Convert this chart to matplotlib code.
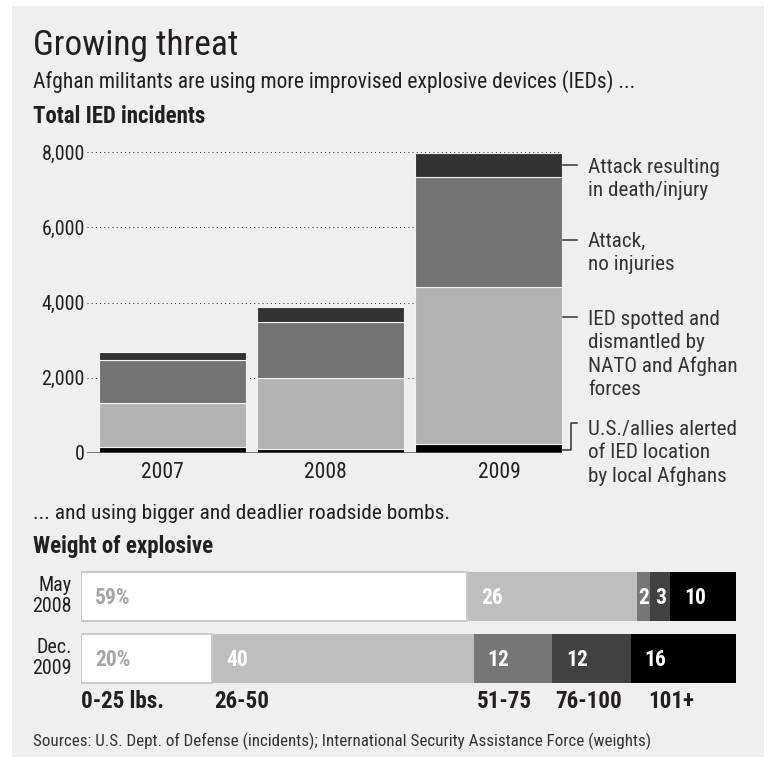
import matplotlib
matplotlib.use("Agg")
import matplotlib.pyplot as plt
from matplotlib.lines import Line2D
from matplotlib.patches import Rectangle
import numpy as np

FONT = ["Roboto Condensed", "Liberation Sans Narrow", "Liberation Sans", "DejaVu Sans"]
plt.rcParams["font.family"] = FONT

# --- data: total IED incidents (stacked, bottom to top) ---
years = ["2007", "2008", "2009"]
alerted_by_locals = [160, 100, 220]
spotted_dismantled = [1170, 1900, 4180]
attack_no_injury = [1140, 1480, 2940]
attack_death_injury = [210, 400, 650]
ied_labels = [
    "U.S./allies alerted\nof IED location\nby local Afghans",
    "IED spotted and\ndismantled by\nNATO and Afghan\nforces",
    "Attack,\nno injuries",
    "Attack resulting\nin death/injury",
]
y_ticks = [0, 2000, 4000, 6000, 8000]

# --- data: weight of explosive (percent) ---
weight_rows = ["May\n2008", "Dec.\n2009"]
weight_cats = ["0-25 lbs.", "26-50", "51-75", "76-100", "101+"]
may_2008 = [59, 26, 2, 3, 10]
dec_2009 = [20, 40, 12, 12, 16]

W, H = 784, 759
BG = "#efefef"
TXT = "#231f20"


def fx(x):
    return x / W


def fy(y):
    return 1 - y / H


fig = plt.figure(figsize=(W / 100, H / 100), dpi=100)
fig.patch.set_facecolor("white")
fig.add_artist(Rectangle((fx(12), fy(757)), fx(764) - fx(12), (757 - 6) / H,
                         transform=fig.transFigure, facecolor=BG, edgecolor="none", zorder=0))

# headings
fig.text(fx(33), fy(55), "Growing threat", fontsize=25.5, color=TXT, va="baseline")
fig.text(fx(33), fy(88), "Afghan militants are using more improvised explosive devices (IEDs) ...",
         fontsize=15.5, color=TXT, va="baseline")
fig.text(fx(33), fy(123), "Total IED incidents", fontsize=16.5, fontweight="bold", color=TXT, va="baseline")

# ---------------- top chart ----------------
ax = fig.add_axes([fx(87), fy(452.7), fx(562) - fx(87), (452.7 - 152.3) / H])
ax.set_facecolor("none")
for s in ax.spines.values():
    s.set_visible(False)

x = np.arange(len(years))
series = [alerted_by_locals, spotted_dismantled, attack_no_injury, attack_death_injury]
colors = ["#000000", "#b3b3b3", "#737373", "#333333"]
bottom = np.zeros(len(years))
for vals, c in zip(series, colors):
    ax.bar(x, vals, bottom=bottom, width=0.927, color=c, edgecolor="#f2f2f2", linewidth=0.8, zorder=2)
    bottom += np.array(vals)

ax.set_xlim(-0.5395, 2.4637)
ax.set_ylim(0, 8000)
ax.set_yticks(y_ticks)
ax.set_yticklabels([f"{v:,}" for v in y_ticks], fontsize=14.5, color=TXT)
ax.set_xticks([])
ax.tick_params(axis="y", length=0, pad=1.5)
for v in y_ticks[1:]:
    ax.axhline(v, color="#333333", lw=0.75, linestyle=(0, (1, 3)), zorder=1)
ax.axhline(0, color="#555555", lw=1.8, zorder=3)

# year labels sit slightly off the bar centres in the original
year_shift = [-0.06, -0.03, 0.07]
for i, yr in enumerate(years):
    ax.text(i + year_shift[i], -0.084, yr, transform=ax.get_xaxis_transform(), ha="center",
            va="baseline", fontsize=15.5, color=TXT)

# legend labels on the right
leg_baselines = [435, 325, 247, 173]
leg_lines = [None, 317, 240, 165]
for lab, yb, yl in zip(ied_labels, leg_baselines, leg_lines):
    for j, line in enumerate(lab.split("\n")):
        fig.text(fx(588), fy(yb + 23.3 * j), line, fontsize=15.2, color="#333333", va="baseline")
    if yl is not None:
        fig.add_artist(Line2D([fx(563), fx(577)], [fy(yl), fy(yl)], color="#333333", lw=1.1))
# bracket for the thin bottom segment
fig.add_artist(Line2D([fx(562), fx(571), fx(571), fx(577)], [fy(449.5), fy(449.5), fy(423), fy(423)],
                      color="#333333", lw=1.1))

# ---------------- bottom chart ----------------
fig.text(fx(33), fy(519), "... and using bigger and deadlier roadside bombs.", fontsize=15.4,
         color=TXT, va="baseline")
fig.text(fx(33), fy(553), "Weight of explosive", fontsize=16.5, fontweight="bold", color=TXT, va="baseline")

ax2 = fig.add_axes([fx(81), fy(689.3), fx(735.5) - fx(81), (689.3 - 565.2) / H])
ax2.set_facecolor("none")
ax2.axis("off")
ax2.set_xlim(0, 100)
ax2.set_ylim(1.5, -0.5)

wcolors = ["#ffffff", "#bebebe", "#767676", "#414141", "#000000"]
px_unit = (735.5 - 81) / 100.0
for r, row in enumerate([may_2008, dec_2009]):
    left = 0
    for k, v in enumerate(row):
        ec = "#cbcbcb" if k == 0 else "none"
        ax2.barh(r, v, left=left, height=0.79, color=wcolors[k], edgecolor=ec,
                 linewidth=1.5 if k == 0 else 0, zorder=2 if k else 3)
        lab = f"{v}%" if k == 0 else str(v)
        tcol = "#a6a6a6" if k == 0 else "white"
        if v * px_unit < 25:
            tx, ha = left + v / 2, "center"
        else:
            tx, ha = left + 14 / px_unit, "left"
        ax2.text(tx, r + 0.03, lab, ha=ha, va="center", fontsize=15.5, fontweight="bold",
                 color=tcol, zorder=4)
        left += v
    ax2.text(-9 / px_unit, r, weight_rows[r], ha="right", va="center", fontsize=14.5,
             color=TXT, linespacing=1.12)

cat_offset_px = [0, 2, 3, 3, 17]
starts = np.concatenate([[0], np.cumsum(dec_2009)[:-1]])
for cat, s, off in zip(weight_cats, starts, cat_offset_px):
    fig.text(fx(81 + s * px_unit + off), fy(708), cat, fontsize=16.6, fontweight="bold",
             color=TXT, va="baseline")

fig.text(fx(33), fy(746), "Sources: U.S. Dept. of Defense (incidents); International Security Assistance Force (weights)",
         fontsize=12.25, color="#333333", va="baseline")

fig.savefig("out.png", dpi=100, facecolor=fig.get_facecolor())
